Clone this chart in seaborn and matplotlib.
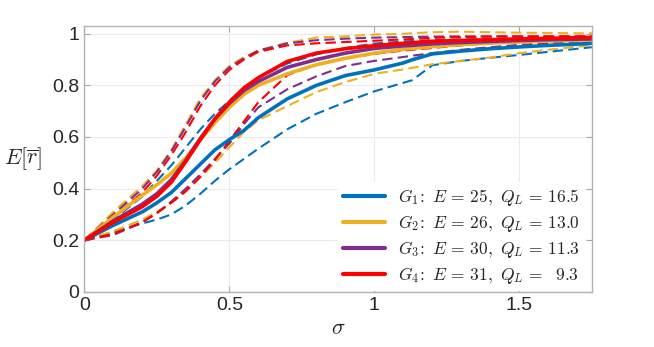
import numpy as np
import pandas as pd
import seaborn as sns
import matplotlib.pyplot as plt

# sigma grid shared by all curves
sigma = [0, 0.1, 0.2, 0.25, 0.3, 0.35, 0.4, 0.45, 0.5, 0.55, 0.6, 0.7, 0.8, 0.9, 1.0,
         1.1, 1.13, 1.2, 1.3, 1.4, 1.5, 1.6, 1.7, 1.75]

# mean curves
g1_mean = [0.2, 0.258, 0.31, 0.345, 0.385, 0.44, 0.495, 0.55, 0.59, 0.625, 0.675,
           0.748, 0.80, 0.838, 0.86, 0.887, 0.899, 0.922, 0.933, 0.942, 0.949, 0.955, 0.96, 0.963]
g2_mean = [0.2, 0.29, 0.375, 0.415, 0.46, 0.52, 0.59, 0.655, 0.715, 0.765, 0.80,
           0.845, 0.88, 0.905, 0.925, 0.94, 0.943, 0.95, 0.958, 0.964, 0.968, 0.972, 0.975, 0.976]
g3_mean = [0.2, 0.275, 0.34, 0.38, 0.435, 0.51, 0.595, 0.67, 0.73, 0.78, 0.815,
           0.87, 0.90, 0.925, 0.943, 0.953, 0.955, 0.961, 0.966, 0.970, 0.974, 0.977, 0.979, 0.98]
g4_mean = [0.2, 0.27, 0.33, 0.37, 0.425, 0.505, 0.59, 0.67, 0.735, 0.79, 0.83,
           0.893, 0.925, 0.942, 0.954, 0.963, 0.965, 0.971, 0.974, 0.977, 0.98, 0.982, 0.985, 0.986]

# upper dashed curves
g1_upper = [0.2, 0.28, 0.37, 0.43, 0.49, 0.56, 0.63, 0.69, 0.74, 0.79, 0.83,
            0.885, 0.92, 0.945, 0.962, 0.97, 0.972, 0.975, 0.978, 0.98, 0.982, 0.983, 0.985, 0.985]
g2_upper = [0.2, 0.31, 0.41, 0.47, 0.55, 0.65, 0.75, 0.82, 0.875, 0.91, 0.935,
            0.965, 0.985, 0.99, 0.997, 1.0, 1.002, 1.006, 1.008, 1.006, 1.004, 1.003, 1.002, 1.002]
g3_upper = [0.2, 0.30, 0.40, 0.465, 0.545, 0.64, 0.74, 0.815, 0.87, 0.905, 0.935,
            0.963, 0.975, 0.981, 0.985, 0.987, 0.988, 0.989, 0.99, 0.99, 0.99, 0.99, 0.99, 0.99]
g4_upper = [0.2, 0.29, 0.385, 0.45, 0.53, 0.62, 0.72, 0.80, 0.86, 0.90, 0.93,
            0.955, 0.963, 0.968, 0.973, 0.978, 0.98, 0.984, 0.987, 0.989, 0.99, 0.99, 0.99, 0.99]

# lower dashed curves
g1_lower = [0.2, 0.23, 0.265, 0.28, 0.30, 0.335, 0.38, 0.43, 0.475, 0.515, 0.555,
            0.63, 0.69, 0.735, 0.777, 0.81, 0.82, 0.878, 0.895, 0.907, 0.918, 0.93, 0.942, 0.948]
g2_lower = [0.2, 0.235, 0.28, 0.31, 0.345, 0.39, 0.445, 0.50, 0.56, 0.62, 0.665,
            0.72, 0.774, 0.813, 0.845, 0.862, 0.868, 0.882, 0.895, 0.908, 0.925, 0.938, 0.95, 0.955]
g3_lower = [0.2, 0.22, 0.27, 0.305, 0.35, 0.40, 0.455, 0.515, 0.575, 0.65, 0.715,
            0.785, 0.835, 0.875, 0.895, 0.91, 0.915, 0.925, 0.938, 0.948, 0.957, 0.964, 0.969, 0.97]
g4_lower = [0.2, 0.225, 0.27, 0.305, 0.345, 0.39, 0.445, 0.51, 0.585, 0.66, 0.735,
            0.84, 0.88, 0.905, 0.922, 0.935, 0.938, 0.945, 0.955, 0.963, 0.97, 0.975, 0.978, 0.98]

labels = [r'$G_1\!:\ E\,=\,25,\ Q_L\,=\,16.5$',
          r'$G_2\!:\ E\,=\,26,\ Q_L\,=\,13.0$',
          r'$G_3\!:\ E\,=\,30,\ Q_L\,=\,11.3$',
          r'$G_4\!:\ E\,=\,31,\ Q_L\,=\,\enspace9.3$']
colors = ['#0072BD', '#EDB120', '#7E2F8E', '#FF0000']

means = [g1_mean, g2_mean, g3_mean, g4_mean]
uppers = [g1_upper, g2_upper, g3_upper, g4_upper]
lowers = [g1_lower, g2_lower, g3_lower, g4_lower]

sns.set_theme(style='whitegrid')
plt.rcParams['font.family'] = ['Liberation Sans', 'DejaVu Sans']
plt.rcParams['mathtext.fontset'] = 'cm'

fig = plt.figure(figsize=(6.54, 3.47), dpi=100)
ax = fig.add_axes([0.129, 0.159, 0.776, 0.766])

# dashed bounds first, solid means on top
for up, lo, c in zip(uppers, lowers, colors):
    sns.lineplot(x=sigma, y=up, color=c, lw=1.5, ls=(0, (5, 2.5)), ax=ax)
    sns.lineplot(x=sigma, y=lo, color=c, lw=1.5, ls=(0, (5, 2.5)), ax=ax)
for m, c, lab in zip(means, colors, labels):
    sns.lineplot(x=sigma, y=m, color=c, lw=2.6, ax=ax, label=lab)

ax.set_xlim(0, 1.75)
ax.set_ylim(0, 1.03)
ax.set_xticks([0, 0.5, 1, 1.5])
ax.set_xticklabels(['0', '0.5', '1', '1.5'])
ax.set_yticks([0, 0.2, 0.4, 0.6, 0.8, 1])
ax.set_yticklabels(['0', '0.2', '0.4', '0.6', '0.8', '1'])
ax.tick_params(labelsize=14, colors='#262626', direction='in', length=4,
               top=True, right=True, bottom=True, left=True, width=0.8)
ax.tick_params(axis='both', color='#aaaaaa')
ax.grid(True, color='#ebebeb', lw=0.8)
for s in ax.spines.values():
    s.set_visible(True)
    s.set_color('#b3b3b3')
    s.set_linewidth(1.0)

ax.set_xlabel(r'$\sigma$', fontsize=16)
ax.xaxis.set_label_coords(0.5, -0.10)
ax.set_ylabel(r'$E[\overline{r}]$', fontsize=16, rotation=0, ha='center', va='center')
ax.yaxis.set_label_coords(-0.12, 0.5)

leg = ax.legend(loc='lower right', bbox_to_anchor=(1.003, -0.03), fontsize=12.5,
                frameon=True, facecolor='white', edgecolor='none', framealpha=1,
                handlelength=2.4, handletextpad=0.75, labelspacing=0.28,
                borderpad=0.3)
for h in leg.get_lines():
    h.set_linewidth(3)

fig.savefig('out.png', dpi=100)
